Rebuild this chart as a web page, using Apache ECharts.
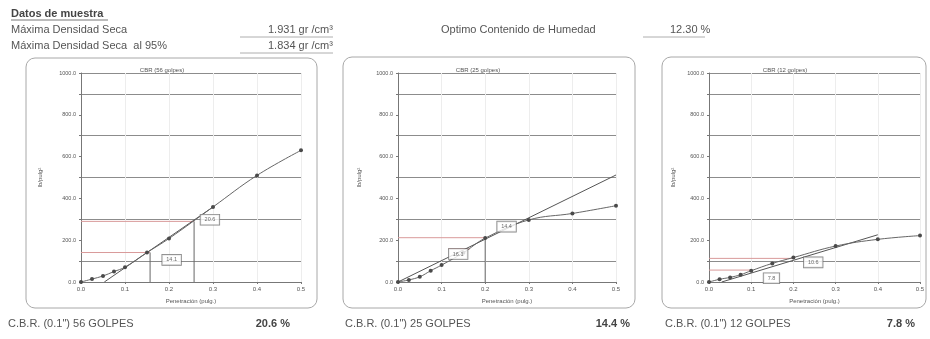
<!DOCTYPE html>
<html><head><meta charset="utf-8">
<script src="https://cdn.jsdelivr.net/npm/echarts@6/dist/echarts.min.js"></script>
<style>html,body{margin:0;padding:0;background:#fff}#c{width:930px;height:339px}</style>
</head><body><div id="c"></div>
<script>
// ---- data ----
const penetration = [0, 0.025, 0.05, 0.075, 0.1, 0.15, 0.2, 0.3, 0.4, 0.5];
const load56 = [0, 14, 29, 50, 71, 141, 208, 359, 510, 630];
const load25 = [0, 10, 25, 54, 81, 140, 210, 297, 328, 365];
const load12 = [0, 13, 22, 35, 54, 89, 117, 172, 204, 222];
const fit56 = [[0.053, 0], [0.3, 359]];
const fit25 = [[0, 0], [0.5, 512]];
const fit12 = [[0.03, 0], [0.4, 226]];
const redGuides56 = [[[0, 141], [0.157, 141]], [[0, 290], [0.257, 290]]];
const grayGuides56 = [[[0.157, 0], [0.157, 141]], [[0.257, 0], [0.257, 290]]];
const redGuides25 = [[[0, 212], [0.2, 212]], [[0.115, 158], [0.165, 158]]];
const grayGuides25 = [[[0.2, 0], [0.2, 212]]];
const redGuides12 = [[[0, 113], [0.2, 113]], [[0, 57], [0.1, 57]]];
const grayGuides12 = [];
const boxes56 = [[0.293, 298, '20.6'], [0.206, 106, '14.1']];
const boxes25 = [[0.138, 134, '16.1'], [0.249, 265, '14.4']];
const boxes12 = [[0.148, 18, '7.8'], [0.247, 94, '10.6']];
const panelTitles = ['CBR (56 golpes)', 'CBR (25 golpes)', 'CBR (12 golpes)'];
const cbrNames = ['C.B.R. (0.1") 56 GOLPES', 'C.B.R. (0.1") 25 GOLPES', 'C.B.R. (0.1") 12 GOLPES'];
const cbrValues = ['20.6 %', '14.4 %', '7.8 %'];
const xMin = 0, xMax = 0.5, xStep = 0.1;
const yMin = 0, yMax = 1000, yStep = 100, yLabelStep = 200;
const xName = 'Penetración (pulg.)';
const yName = 'lb/pulg²';
const headerTitle = 'Datos de muestra';
const headerRows = [['Máxima Densidad Seca', '1.931 gr /cm³'], ['Máxima Densidad Seca  al 95%', '1.834 gr /cm³']];
const humidityLabel = 'Optimo Contenido de Humedad';
const humidityValue = '12.30 %';

// ---- layout ----
const FONT = 'Liberation Sans, Arial, sans-serif';
const TXT = '#555';
const grids = [
  {left: 81, right: 930 - 301, top: 73, bottom: 57},
  {left: 398, right: 930 - 616, top: 73, bottom: 57},
  {left: 709, right: 930 - 920, top: 73, bottom: 57}
];
const yNameGaps = [38, 36, 33];
const boxRects = [[26, 58, 291, 250], [343, 57, 292, 251], [662, 57, 264, 251]];
const titleX = [157, 473, 780];
const bottomNameX = [8, 345, 665];
const bottomValX = [290, 630, 915];

const panels = [
  {load: load56, fit: fit56, red: redGuides56, gray: grayGuides56, boxes: boxes56},
  {load: load25, fit: fit25, red: redGuides25, gray: grayGuides25, boxes: boxes25},
  {load: load12, fit: fit12, red: redGuides12, gray: grayGuides12, boxes: boxes12}
];

const splitColors = [];
for (let v = yMin; v <= yMax; v += yStep) {
  splitColors.push(((v / yStep) % 2 === 1 || v === yMax) ? '#8c8c8c' : 'rgba(0,0,0,0)');
}

const xAxis = [], yAxis = [], series = [], title = [];
panels.forEach((p, i) => {
  xAxis.push({
    gridIndex: i, type: 'value', min: xMin, max: xMax, interval: xStep,
    name: xName, nameLocation: 'middle', nameGap: 16,
    nameTextStyle: {fontSize: 6, color: TXT, fontFamily: FONT},
    axisLine: {lineStyle: {color: '#777', width: 1}},
    axisTick: {length: 2, lineStyle: {color: '#777'}},
    axisLabel: {fontSize: 6, color: TXT, margin: 4, fontFamily: FONT, formatter: v => v.toFixed(1)},
    splitLine: {show: true, lineStyle: {color: '#ededed', width: 1}}
  });
  yAxis.push({
    gridIndex: i, type: 'value', min: yMin, max: yMax, interval: yStep,
    name: yName, nameLocation: 'middle', nameGap: yNameGaps[i], nameRotate: 90,
    nameTextStyle: {fontSize: 6, color: TXT, fontFamily: FONT},
    axisLine: {show: true, lineStyle: {color: '#777', width: 1}},
    axisTick: {show: true, length: 2, lineStyle: {color: '#777'}},
    axisLabel: {fontSize: 5.5, color: TXT, margin: 5, fontFamily: FONT,
      formatter: v => (v % yLabelStep === 0 ? v.toFixed(1) : '')},
    splitLine: {show: true, lineStyle: {color: splitColors, width: 1}}
  });
  title.push({text: panelTitles[i], left: titleX[i], top: 62, textAlign: 'center',
    textStyle: {fontSize: 6, color: TXT, fontWeight: 'normal', fontFamily: FONT}});
  p.red.forEach(seg => series.push({type: 'line', xAxisIndex: i, yAxisIndex: i, data: seg,
    symbol: 'none', silent: true, lineStyle: {color: '#d99a9a', width: 1}, z: 3}));
  p.gray.forEach(seg => series.push({type: 'line', xAxisIndex: i, yAxisIndex: i, data: seg,
    symbol: 'none', silent: true, lineStyle: {color: '#666', width: 1}, z: 3}));
  series.push({type: 'line', xAxisIndex: i, yAxisIndex: i, data: p.fit, symbol: 'none',
    lineStyle: {color: '#555', width: 1}, z: 4});
  series.push({type: 'line', xAxisIndex: i, yAxisIndex: i,
    data: penetration.map((x, k) => [x, p.load[k]]), smooth: 0.4,
    symbol: 'circle', symbolSize: 4, itemStyle: {color: '#4a4a4a'},
    lineStyle: {color: '#666', width: 1}, z: 5});
  series.push({type: 'scatter', xAxisIndex: i, yAxisIndex: i, symbolSize: 0, z: 6,
    data: p.boxes.map(b => ({value: [b[0], b[1]], name: b[2]})),
    label: {show: true, position: 'inside', formatter: d => d.name, fontSize: 5.5,
      color: '#444', fontFamily: FONT, backgroundColor: '#fff', borderColor: '#666',
      borderWidth: 0.8, padding: [2, 4]}});
});

const graphic = [];
boxRects.forEach(r => graphic.push({type: 'rect', shape: {x: r[0], y: r[1], width: r[2], height: r[3], r: 9},
  style: {fill: 'none', stroke: '#a8a8a8', lineWidth: 1}, z: -1}));
graphic.push({type: 'text', left: 11, top: 8, style: {text: headerTitle, font: 'bold 11px ' + FONT, fill: '#444'}});
graphic.push({type: 'line', shape: {x1: 11, y1: 20, x2: 108, y2: 20}, style: {stroke: '#555', lineWidth: 0.8}});
headerRows.forEach((r, k) => {
  graphic.push({type: 'text', left: 11, top: 24 + k * 16, style: {text: r[0], font: '11px ' + FONT, fill: TXT}});
  graphic.push({type: 'text', left: 268, top: 24 + k * 16, style: {text: r[1], font: '11px ' + FONT, fill: TXT}});
  graphic.push({type: 'line', shape: {x1: 240, y1: 37 + k * 16, x2: 333, y2: 37 + k * 16}, style: {stroke: '#999', lineWidth: 0.8}});
});
graphic.push({type: 'text', left: 441, top: 24, style: {text: humidityLabel, font: '11px ' + FONT, fill: TXT}});
graphic.push({type: 'text', left: 670, top: 24, style: {text: humidityValue, font: '11px ' + FONT, fill: TXT}});
graphic.push({type: 'line', shape: {x1: 643, y1: 37, x2: 705, y2: 37}, style: {stroke: '#999', lineWidth: 0.8}});
cbrNames.forEach((t, k) => {
  graphic.push({type: 'text', left: bottomNameX[k], top: 318, style: {text: t, font: '11px ' + FONT, fill: TXT}});
  graphic.push({type: 'text', right: 930 - bottomValX[k], top: 318, style: {text: cbrValues[k], font: 'bold 11px ' + FONT, fill: '#444'}});
});

const chart = echarts.init(document.getElementById('c'), null, {renderer: 'canvas'});
chart.setOption({
  animation: false, backgroundColor: '#fff',
  title, grid: grids, xAxis, yAxis, series, graphic
});
</script></body></html>
